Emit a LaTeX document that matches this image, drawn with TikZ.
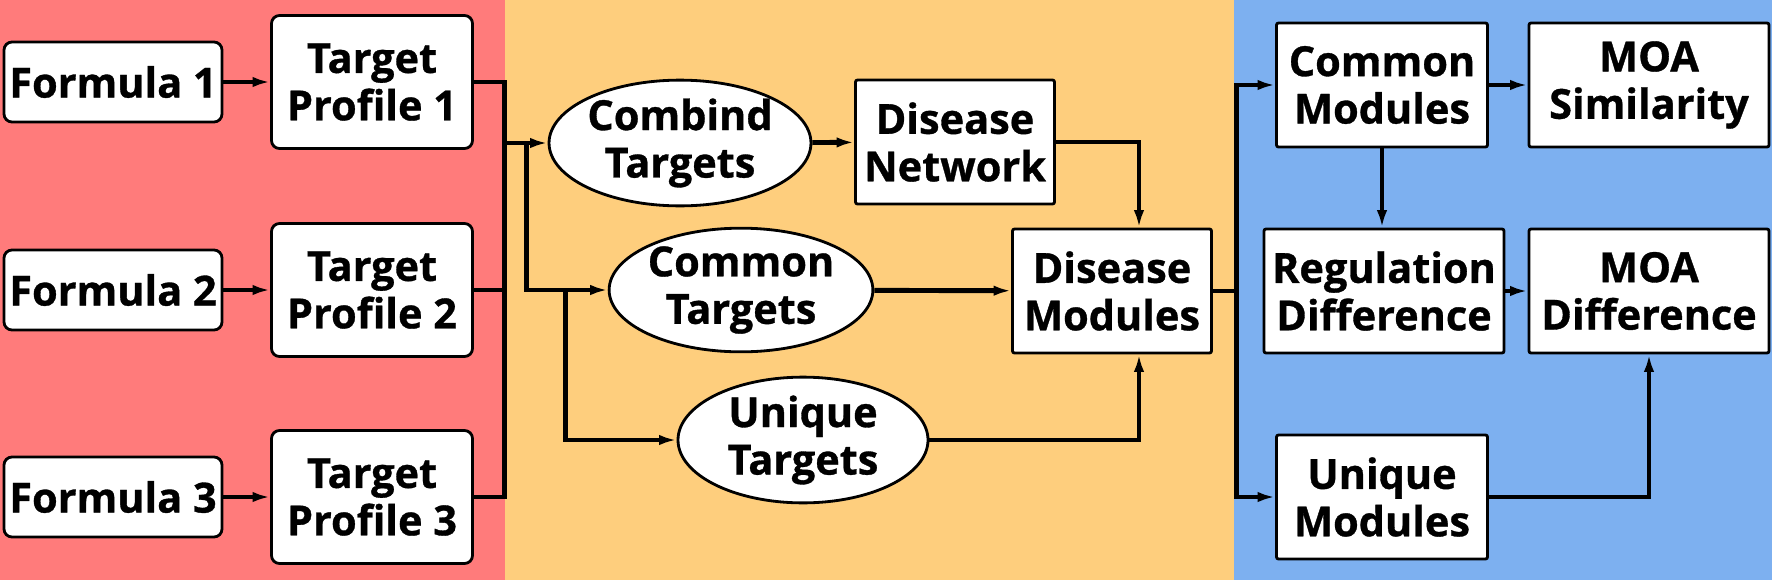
\documentclass[tikz,border=0pt]{standalone}
\usepackage{fontspec}
\setmainfont{Open Sans}[BoldFeatures={FakeBold=0.8}]
\usepackage{tikz}
\usetikzlibrary{calc,shapes,arrows.meta}

\definecolor{panelred}{RGB}{255,123,123}
\definecolor{panelorange}{RGB}{254,206,125}
\definecolor{panelblue}{RGB}{125,176,240}

\tikzset{
  txt/.style={font=\fontsize{11.8}{13.5}\selectfont\bfseries, align=center, inner sep=0pt},
  formula/.style={txt, draw, line width=0.8pt, fill=white, rounded corners=0.08cm,
    minimum width=2.18cm, minimum height=0.80cm},
  profile/.style={txt, draw, line width=0.8pt, fill=white, rounded corners=0.08cm,
    minimum width=2.01cm, minimum height=1.33cm},
  targetell/.style={txt, draw, ellipse, line width=0.8pt, fill=white,
    minimum width=2.50cm, minimum height=1.20cm},
  modbox/.style={txt, draw, line width=0.8pt, fill=white, rounded corners=0.02cm,
    minimum width=#1, minimum height=1.24cm},
  modbox/.default=1.99cm,
  link/.style={line width=1.4pt},
  arr/.style={line width=1.4pt, -{Latex[length=5pt,width=3pt]}}
}

\begin{document}
\begin{tikzpicture}
    \useasboundingbox (0,0) rectangle (17.72,-5.80);
    % panels
    \fill[panelred] (0,0) rectangle (5.05,-5.80);
    \fill[panelorange] (5.05,0) rectangle (12.34,-5.80);
    \fill[panelblue] (12.34,0) rectangle (17.72,-5.80);

    % formulas and target profiles
    \foreach \i/\y in {1/-0.82,2/-2.90,3/-4.97}
    {
        \node[formula] (f\i) at (1.13,\y) {Formula \i};
        \node[profile] (tp\i) at (3.72,\y) {Target\\Profile \i};
        \draw[arr] (f\i) -- (tp\i);
    }

    % targets
    \node[targetell] (comb) at (6.80,-1.43) {Combind\\Targets};
    \node[targetell] (comt) at (7.41,-2.90) {Common\\Targets};
    \node[targetell] (unit) at (8.03,-4.40) {Unique\\Targets};

    % disease
    \node[modbox] (dnet) at (9.55,-1.42) {Disease\\Network};
    \node[modbox] (dmod) at (11.12,-2.91) {Disease\\Modules};

    % modules
    \node[modbox=2.11cm] (cmod) at (13.82,-0.85) {Common\\Modules};
    \node[modbox=2.40cm] (msim) at (16.49,-0.85) {MOA\\Similarity};
    \node[modbox=2.40cm] (rdif) at (13.84,-2.91) {Regulation\\Difference};
    \node[modbox=2.40cm] (mdif) at (16.49,-2.91) {MOA\\Difference};
    \node[modbox=2.11cm] (umod) at (13.82,-4.97) {Unique\\Modules};

    % left bus
    \draw[link] (tp1.east) -- ++(0.31,0) coordinate (bus) |- (tp3.east);
    \draw[link] (tp2.east) -- (tp2.east -| bus);
    \coordinate (s1) at ($(comb.west -| bus)+(0.22,0)$);
    \coordinate (s2) at ($(comt.west -| bus)+(0.61,0)$);
    \draw[arr] (comb.west -| bus) -- (comb.west);
    \draw[arr] (s1) |- (comt.west);
    \draw[arr] (s2) |- (unit.west);

    \draw[arr] (comb) -- (dnet);
    \draw[arr] (dnet.east) -| ([xshift=0.27cm]dmod.north);
    \draw[arr] (comt) -- (dmod);
    \draw[arr] (unit.east) -| ([xshift=0.27cm]dmod.south);

    % right bus
    \draw[link] (dmod.east) -- ++(0.24,0) coordinate (rbus);
    \draw[arr] (rbus) |- (cmod.west);
    \draw[arr] (rbus) |- (umod.west);
    \draw[arr] (cmod) -- (msim);
    \draw[arr] (cmod.south) -- (cmod.south |- rdif.north);
    \draw[arr] (rdif) -- (mdif);
    \draw[arr] (umod.east) -| (mdif.south);
\end{tikzpicture}
\end{document}
